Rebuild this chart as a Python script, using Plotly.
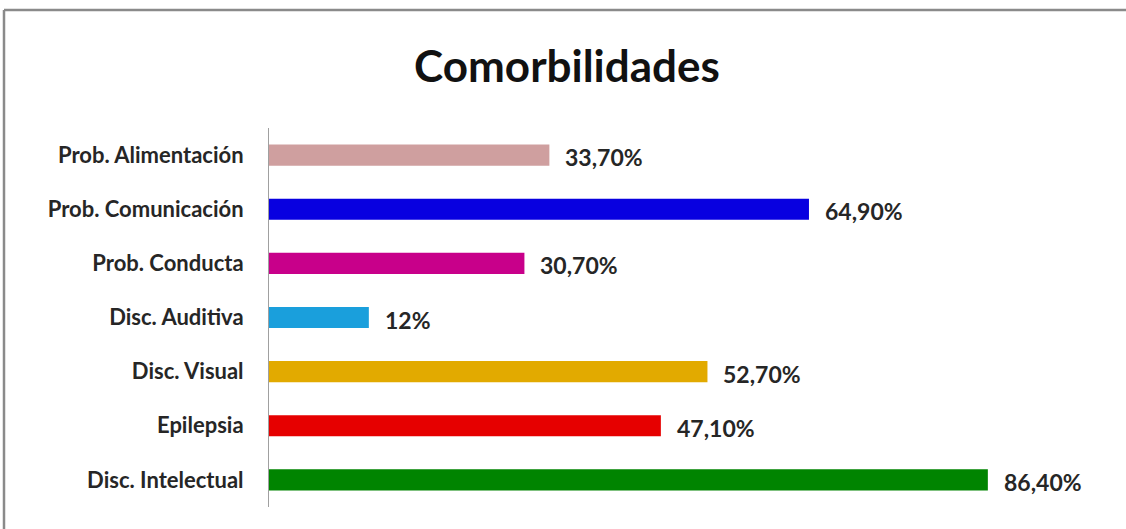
import plotly.graph_objects as go

categories = ["Prob. Alimentación", "Prob. Comunicación", "Prob. Conducta",
              "Disc. Auditiva", "Disc. Visual", "Epilepsia", "Disc. Intelectual"]
values = [33.7, 64.9, 30.7, 12.0, 52.7, 47.1, 86.4]
value_labels = ["33,70%", "64,90%", "30,70%", "12%", "52,70%", "47,10%", "86,40%"]
bar_colors = ["#cf9f9f", "#0800e0", "#c8008a", "#1a9fdc", "#e2aa00", "#e60000", "#008400"]

W, H = 1126, 529
ML, MR, MT, MB = 269, 25, 128, 22
FONT = "Lato, Open Sans, sans-serif"

fig = go.Figure(go.Bar(
    y=categories, x=values, orientation="h",
    marker=dict(color=bar_colors, line=dict(width=0)),
    width=0.39, hoverinfo="skip",
))

for c, v, t in zip(categories, values, value_labels):
    fig.add_annotation(x=v, y=c, text=t, showarrow=False, xanchor="left",
                       xshift=14, yshift=-2,
                       font=dict(family=FONT, size=23, color="#262626", weight="bold"))

pw = W - ML - MR
ph = H - MT - MB
fx0 = (4 - ML) / pw
fx1 = (W + 20 - ML) / pw
fy_top = (H - MB - 10) / ph
fy_bot = (H - MB - H - 20) / ph
# clean right strip, then the outer frame's top and left edges
fig.add_shape(type="rect", xref="paper", yref="paper",
              x0=(W - 12 - ML) / pw, x1=fx1, y0=fy_bot, y1=(H - MB - 12) / ph,
              line=dict(width=0), fillcolor="white", layer="above")
frame = dict(color="#8a8a8a", width=2.5)
fig.add_shape(type="line", xref="paper", yref="paper", x0=fx0, x1=fx1, y0=fy_top, y1=fy_top, line=frame)
fig.add_shape(type="line", xref="paper", yref="paper", x0=fx0, x1=fx0, y0=fy_top, y1=fy_bot, line=frame)

fig.update_layout(
    width=W, height=H,
    margin=dict(l=ML, r=MR, t=MT, b=MB),
    paper_bgcolor="white", plot_bgcolor="white",
    showlegend=False,
    title=dict(text="<b>Comorbilidades</b>", x=567 / W, xanchor="center", y=1 - 67 / H, yanchor="middle",
               font=dict(family=FONT, size=44, color="#111111")),
    xaxis=dict(range=[0, 100], visible=False, fixedrange=True),
    yaxis=dict(categoryorder="array", categoryarray=categories[::-1], autorange=False,
               range=[-0.5, 6.5], showline=True, linecolor="#a0a0a0", linewidth=1,
               ticks="", showgrid=False, ticklabelstandoff=20,
               tickfont=dict(family=FONT, size=22, color="#262626", weight="bold")),
    bargap=0.6,
)

fig.write_html(
    "out.html", config={"displayModeBar": False},
    post_script="document.body.style.margin='0';document.body.style.overflow='hidden';"
                "document.documentElement.style.overflow='hidden';",
)
